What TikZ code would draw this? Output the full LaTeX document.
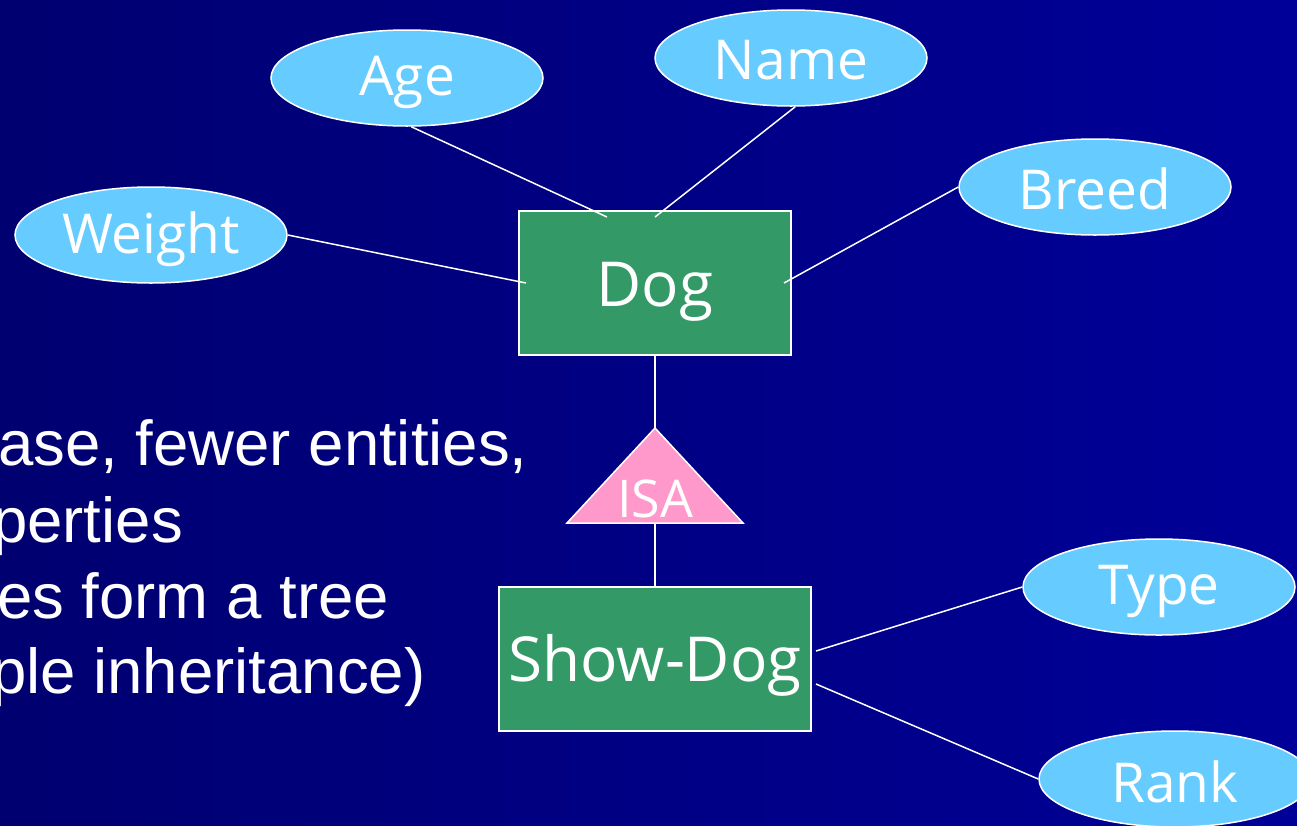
\documentclass[tikz,border=0pt]{standalone}
\usepackage{fontspec}
\setmainfont{Liberation Sans}
\newfontfamily\erfont{Open Sans}
\usetikzlibrary{shapes.geometric,calc}
\definecolor{bgleft}{RGB}{0,0,112}
\definecolor{bgright}{RGB}{0,0,152}
\definecolor{entgreen}{RGB}{51,153,102}
\definecolor{isapink}{RGB}{255,153,204}
\definecolor{attrblue}{RGB}{102,204,255}
\newcommand{\lowered}[2]{\raisebox{-#1pt}[\height][\depth]{#2}}
\tikzset{
  entity/.style={draw=white, line width=2pt, fill=entgreen, text=white,
    font=\erfont\fontsize{62}{70}\selectfont, inner sep=0pt},
  attr/.style={ellipse, draw=white, line width=1.5pt, fill=attrblue, text=white,
    minimum width=272pt, minimum height=96pt, inner sep=0pt,
    font=\erfont\fontsize{55}{62}\selectfont},
  conn/.style={draw=white, line width=1.5pt},
  isashape/.style={draw=white, line width=1.5pt, fill=isapink},
  bodytext/.style={anchor=base west, text=white, inner sep=0pt,
    font=\fontsize{63.5}{70}\selectfont}
}
\begin{document}
\begin{tikzpicture}[x=1pt,y=-1pt]
\path[use as bounding box, clip] (0,0) rectangle (1297,825);
\shade[left color=bgleft, right color=bgright] (0,0) rectangle (1297,825);

% left text (cut off by the frame, as in the reference)
\node[bodytext] (l1) at (-2,465) {ase, fewer entities,};
\node[bodytext] (l2) at (-8,542) {perties};
\node[bodytext] (l3) at (-3,618) {es form a tree};
\node[bodytext] (l4) at (-9,693) {ple inheritance)};

% entities
\node[entity, minimum width=272pt, minimum height=144pt] (dog) at (655,283) {\lowered{9}{Dog}};
\node[entity, minimum width=312pt, minimum height=144pt] (show) at (655,659) {\lowered{6}{Show-Dog}};

% ISA triangle
\coordinate (isatop) at (655,428);
\coordinate (isaright) at (743,523);
\coordinate (isaleft) at (567,523);
\coordinate (isabot) at (655,523);
\draw[isashape] (isatop) -- (isaright) -- (isaleft) -- cycle;
\node[text=white, inner sep=0pt, anchor=base, font=\erfont\fontsize{52}{60}\selectfont] (isa) at (655,517) {ISA};

% attributes
\node[attr] (age) at (407,78) {\lowered{4}{Age}};
\node[attr] (name) at (791,58) {\lowered{2}{Name}};
\node[attr] (breed) at (1095,187) {\lowered{2}{Breed}};
\node[attr] (weight) at (151,235) {\lowered{4}{Weight}};
\node[attr] (type) at (1159,587) {\lowered{4}{Type}};
\node[attr] (rank) at (1175,779) {\lowered{3}{Rank}};

% connectors
\draw[conn] (dog.south) -- (isatop);
\draw[conn] (isabot) -- (show.north);
\draw[conn] (age.-85) -- ([shift={(-48,7)}]dog.north);
\draw[conn] (name.-85) -- ([shift={(0,7)}]dog.north);
\draw[conn] (breed.west) -- ([shift={(-8,0)}]dog.east);
\draw[conn] (weight.east) -- ([shift={(8,0)}]dog.west);
\draw[conn] (type.west) -- ([shift={(4,-8)}]show.east);
\draw[conn] (rank.west) -- ([shift={(4,25)}]show.east);
\end{tikzpicture}
\end{document}
